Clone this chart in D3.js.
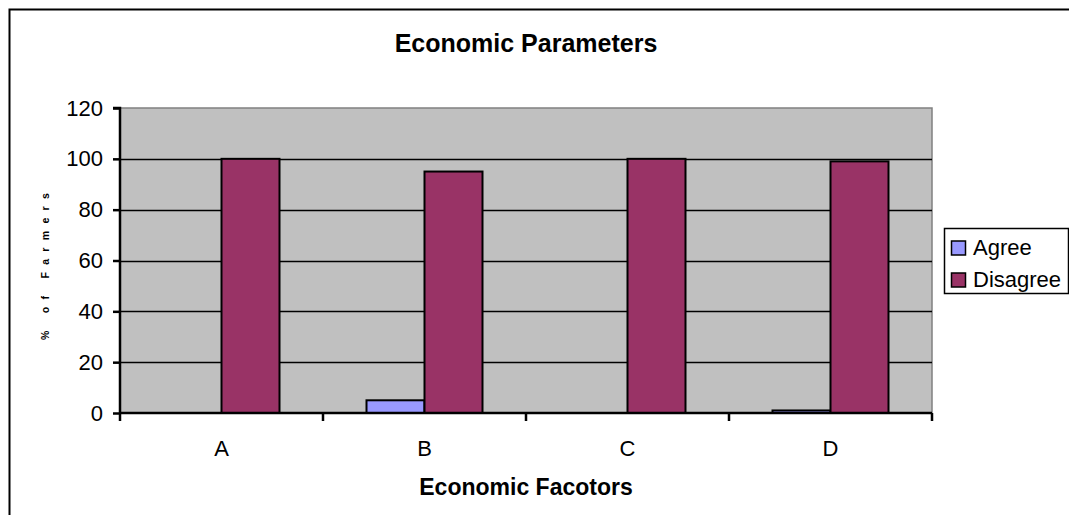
<!DOCTYPE html>
<html>
<head>
<meta charset="utf-8">
<script src="https://d3js.org/d3.v7.min.js"></script>
<style>
  html, body { margin: 0; padding: 0; background: #fff; }
  svg { display: block; font-family: "Liberation Sans", Arial, sans-serif; }
</style>
</head>
<body>
<script>
// Survey responses: share of farmers agreeing / disagreeing per economic factor
const categories = ["A", "B", "C", "D"];
const seriesNames = ["Agree", "Disagree"];
const agreeValues = [0, 5, 0, 1];
const disagreeValues = [100, 95, 100, 99];
const yTicks = [0, 20, 40, 60, 80, 100, 120];
const colors = ["#9999FF", "#993366"];

const W = 1069, H = 515;
const plot = { left: 120, top: 108, right: 932, bottom: 413 };

const svg = d3.select("body").append("svg")
  .attr("width", W).attr("height", H);

// Outer chart frame
svg.append("rect")
  .attr("x", 9.5).attr("y", 9.5)
  .attr("width", 1200).attr("height", 700)
  .attr("fill", "#fff").attr("stroke", "#000").attr("stroke-width", 2);

const x0 = d3.scaleBand().domain(categories)
  .range([plot.left, plot.right]).paddingInner(0).paddingOuter(0);
// Gap width of 150%: band = 2 bars + 1.5 bar gap
const barW = x0.bandwidth() / 3.5;
const x1 = d3.scaleBand().domain(seriesNames)
  .range([barW * 0.75, barW * 0.75 + barW * 2]);

const y = d3.scaleLinear().domain([0, 120]).range([plot.bottom, plot.top]);

// Plot background
svg.append("rect")
  .attr("x", plot.left).attr("y", plot.top)
  .attr("width", plot.right - plot.left).attr("height", plot.bottom - plot.top)
  .attr("fill", "#C0C0C0").attr("stroke", "#808080").attr("stroke-width", 1.5);

// Gridlines
svg.append("g").selectAll("line")
  .data(yTicks.filter(t => t > 0 && t < 120))
  .join("line")
  .attr("x1", plot.left).attr("x2", plot.right)
  .attr("y1", d => Math.round(y(d)) + 0.5).attr("y2", d => Math.round(y(d)) + 0.5)
  .attr("stroke", "#000").attr("stroke-width", 1.5);

// Bars
const rows = categories.map((c, i) => ({ cat: c, vals: [agreeValues[i], disagreeValues[i]] }));
const groups = svg.append("g").selectAll("g")
  .data(rows).join("g")
  .attr("transform", d => `translate(${x0(d.cat)},0)`);
groups.selectAll("rect")
  .data(d => d.vals.map((v, k) => ({ name: seriesNames[k], v, k })))
  .join("rect")
  .attr("x", d => x1(d.name))
  .attr("width", x1.bandwidth())
  .attr("y", d => y(d.v))
  .attr("height", d => y(0) - y(d.v))
  .attr("fill", d => colors[d.k])
  .attr("stroke", "#000").attr("stroke-width", 2);

// Y axis
const yAxis = d3.axisLeft(y).tickValues(yTicks).tickSize(7).tickPadding(10);
const gy = svg.append("g").attr("transform", `translate(${plot.left},0)`).call(yAxis);
gy.select(".domain").attr("stroke-width", 2.5).attr("d", `M-7,${plot.top}H0V${plot.bottom}`);
gy.selectAll(".tick line").attr("stroke-width", 2.5);
gy.selectAll("text").attr("font-size", 22).attr("fill", "#000")
  .attr("font-family", "Liberation Sans, Arial, sans-serif");

// X axis with ticks at category boundaries
const gx = svg.append("g").attr("transform", `translate(0,${plot.bottom})`);
gx.append("line").attr("x1", plot.left).attr("x2", plot.right)
  .attr("stroke", "#000").attr("stroke-width", 2.5);
const bounds = categories.map(c => x0(c)).concat([plot.right]);
gx.selectAll("line.tk").data(bounds).join("line").attr("class", "tk")
  .attr("x1", d => d).attr("x2", d => d).attr("y1", 0).attr("y2", 8)
  .attr("stroke", "#000").attr("stroke-width", 2.5);
gx.selectAll("text").data(categories).join("text")
  .attr("x", d => x0(d) + x0.bandwidth() / 2)
  .attr("y", 43)
  .attr("text-anchor", "middle")
  .attr("font-size", 22)
  .text(d => d);

// Titles
svg.append("text").attr("x", 526).attr("y", 52)
  .attr("text-anchor", "middle").attr("font-weight", "bold").attr("font-size", 25)
  .text("Economic Parameters");
svg.append("text").attr("x", 526).attr("y", 495)
  .attr("text-anchor", "middle").attr("font-weight", "bold").attr("font-size", 23)
  .text("Economic Facotors");
svg.append("text")
  .attr("transform", "translate(49,263) rotate(-90)")
  .attr("text-anchor", "middle").attr("font-weight", "bold").attr("font-size", 10.5)
  .attr("letter-spacing", 7.3)
  .text("% of Farmers");

// Legend
const lg = svg.append("g").attr("transform", "translate(944,228)");
lg.append("rect").attr("x", 0.5).attr("y", 0.5).attr("width", 124).attr("height", 65)
  .attr("fill", "#fff").attr("stroke", "#000").attr("stroke-width", 1.5);
const items = lg.selectAll("g.item").data(seriesNames).join("g").attr("class", "item")
  .attr("transform", (d, i) => `translate(0,${27 + i * 32})`);
items.append("rect").attr("x", 7.5).attr("y", -14).attr("width", 14).attr("height", 14)
  .attr("fill", (d, i) => colors[i]).attr("stroke", "#000").attr("stroke-width", 1.5);
items.append("text").attr("x", 29).attr("y", 0).attr("font-size", 22).text(d => d);
</script>
</body>
</html>
